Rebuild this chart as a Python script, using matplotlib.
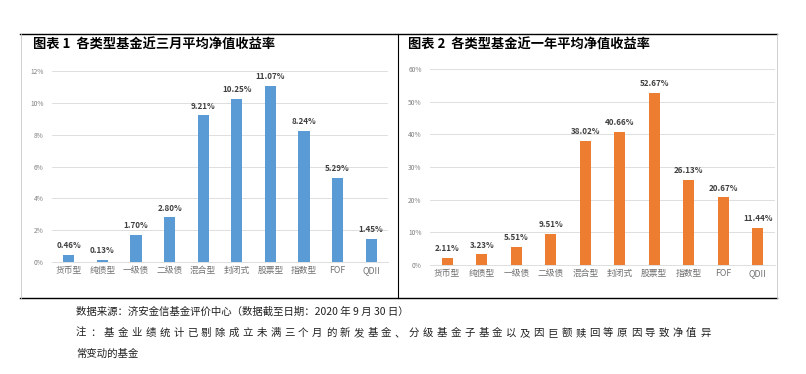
import numpy as np
import matplotlib.pyplot as plt
from matplotlib.lines import Line2D
from matplotlib.ticker import FuncFormatter

plt.rcParams['font.family'] = ['Noto Sans CJK SC', 'DejaVu Sans']

# data
categories = ["货币型", "纯债型", "一级债", "二级债", "混合型", "封闭式", "股票型", "指数型", "FOF", "QDII"]
ret_3m = [0.46, 0.13, 1.70, 2.80, 9.21, 10.25, 11.07, 8.24, 5.29, 1.45]
ret_1y = [2.11, 3.23, 5.51, 9.51, 38.02, 40.66, 52.67, 26.13, 20.67, 11.44]
title_1 = "图表 1  各类型基金近三月平均净值收益率"
title_2 = "图表 2  各类型基金近一年平均净值收益率"
note_src = "数据来源：济安金信基金评价中心（数据截至日期：2020 年 9 月 30 日）"
note_2 = "注：基金业绩统计已剔除成立未满三个月的新发基金、分级基金子基金以及因巨额赎回等原因导致净值异"
note_3 = "常变动的基金"

W, H = 806, 374
fig = plt.figure(figsize=(W / 100, H / 100), dpi=100)


def px(x, y):
    # pixel coords (top-left origin) -> figure fraction
    return x / W, 1 - y / H


def bar_panel(rect, vals, color, ymax, step):
    ax = fig.add_axes(rect)
    x = np.arange(len(vals))
    ax.bar(x, vals, width=0.33, color=color, zorder=3)
    for xi, v in zip(x, vals):
        ax.text(xi, v + ymax * 0.025, f"{v:.2f}%", ha='center', va='bottom',
                fontsize=5.8, fontweight='bold', color='#404040')
    ax.set_xlim(-0.5, len(vals) - 0.5)
    ax.set_ylim(0, ymax)
    ax.set_yticks(np.arange(0, ymax + step / 2, step))
    ax.yaxis.set_major_formatter(FuncFormatter(lambda v, p: f"{v:.0f}%"))
    ax.set_xticks(x)
    ax.set_xticklabels(categories, fontsize=6.3, color='#707070')
    ax.tick_params(axis='y', labelsize=4.8, labelcolor='#808080', length=0, pad=6)
    ax.tick_params(axis='x', length=0, pad=3)
    ax.grid(axis='y', color='#d9d9d9', lw=0.6, zorder=0)
    for s in ['top', 'right', 'left']:
        ax.spines[s].set_visible(False)
    ax.spines['bottom'].set_color('#d9d9d9')
    ax.spines['bottom'].set_linewidth(0.6)
    return ax


l1, b1 = px(52, 262)
bar_panel([l1, b1, 336 / W, 191 / H], ret_3m, '#5B9BD5', 12, 2)
l2, b2 = px(430, 265)
bar_panel([l2, b2, 345 / W, 196 / H], ret_1y, '#ED7D31', 60, 10)

# titles
fig.text(*px(33, 45), title_1, fontsize=9.5, fontweight='bold', va='center', ha='left')
fig.text(*px(408, 45), title_2, fontsize=9.5, fontweight='bold', va='center', ha='left')


# frame lines
def fline(x0, y0, x1, y1, c, lw):
    a, b = px(x0, y0)
    c2, d = px(x1, y1)
    fig.add_artist(Line2D([a, c2], [b, d], color=c, lw=lw))


fline(20, 34, 777, 34, 'black', 1.0)
fline(20, 298, 777, 298, 'black', 1.0)
fline(21, 34, 21, 298, '#c8c8c8', 0.6)
fline(398, 34, 398, 298, 'black', 0.8)
fline(777, 34, 777, 298, '#c8c8c8', 0.6)

# notes
fs_note = 7.5
fig.text(*px(76, 312), note_src, fontsize=fs_note, va='center', ha='left', color='#202020')
# second line is justified across the width in the source document
n = len(note_2)
x0, x1 = 76, 700
stepx = (x1 - x0) / (n - 1)
for i, ch in enumerate(note_2):
    fig.text(*px(x0 + i * stepx, 333), ch, fontsize=fs_note, va='center', ha='left', color='#202020')
fig.text(*px(76, 354), note_3, fontsize=fs_note, va='center', ha='left', color='#202020')

fig.savefig("out.png", dpi=100)
